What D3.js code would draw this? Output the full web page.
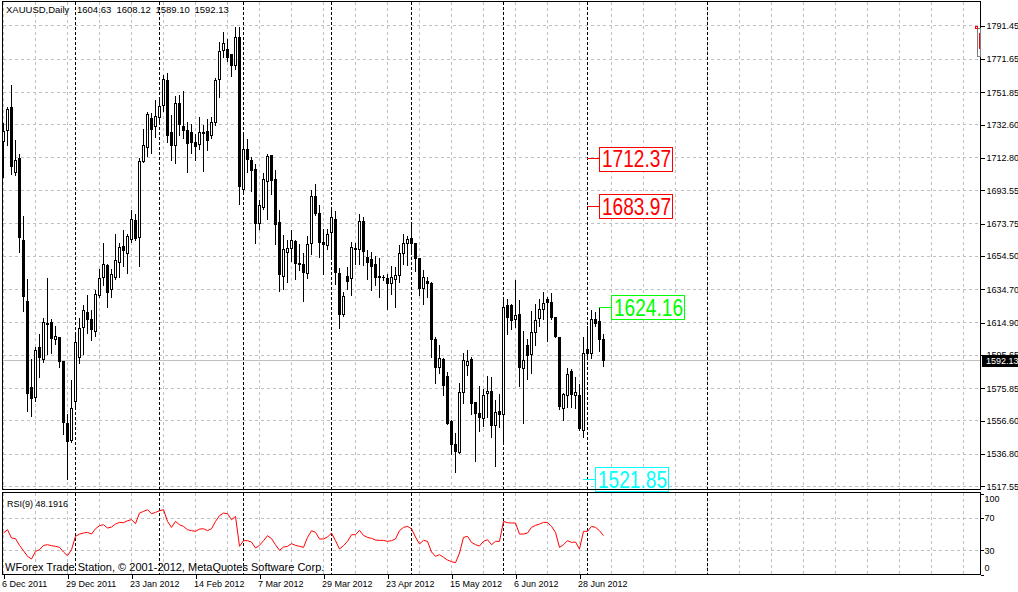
<!DOCTYPE html>
<html>
<head>
<meta charset="utf-8">
<script src="https://cdn.jsdelivr.net/npm/d3@7"></script>
<style>
  body { margin: 0; background: #fff; }
  svg { display: block; font-family: "Liberation Sans", Arial, sans-serif; }
  .grid line { stroke: #c0c0c0; stroke-dasharray: 3,3; shape-rendering: crispEdges; }
  .sep line { stroke: #000; stroke-dasharray: 3,2; shape-rendering: crispEdges; }
  .frame { fill: none; stroke: #000; shape-rendering: crispEdges; }
  .axis text { font-size: 9px; fill: #000; }
  .axis line { stroke: #000; shape-rendering: crispEdges; }
  .candle line, .candle rect { stroke: #000; shape-rendering: crispEdges; }
  .level text { font-family: "Liberation Sans Narrow", "Arial Narrow", "Liberation Sans", Arial, sans-serif; font-size: 23px; }
</style>
</head>
<body>
<div id="chart"></div>
<script>
// daily XAUUSD bars, 6 Dec 2011 .. 6 Jul 2012
const opens = [1722.32,1729.29,1742.80,1704.46,1712.44,1663.79,1627.47,1576.45,1570.14,1599.91,1592.76,1614.20,1614.79,1604.67,1606.04,1591.75,1554.66,1545.13,1568.11,1594.31,1611.82,1620.75,1616.76,1609.79,1631.05,1641.59,1648.91,1634.44,1641.59,1650.87,
  1660.22,1655.88,1664.21,1675.70,1665.76,1710.83,1718.99,1736.25,1731.67,1736.85,1744.17,1758.64,1727.68,1720.36,1745.18,1731.67,1728.87,1727.92,1721.96,1720.95,
  1727.92,1728.69,1726.31,1733.63,1759.47,1776.50,1777.34,1774.36,1767.57,1784.48,1694.16,1717.80,1711.43,1706.07,1674.09,1683.62,1699.10,1714.40,1699.93,1674.33,
  1642.54,1656.83,1658.85,1663.20,1649.90,1649.33,1643.97,1661.83,1689.99,1680.05,1662.78,1660.82,1668.74,1676.12,1643.97,1619.73,1642.36,1640.99,1658.85,1658.26,
  1675.11,1653.49,1652.30,1649.33,1642.36,1642.00,1641.35,1638.01,1640.39,1642.95,1656.23,1662.19,1664.81,1661.83,1652.90,1635.04,1639.38,1638.01,1604.67,1588.36,
  1592.76,1582.82,1556.03,1542.75,1537.75,1573.11,1589.37,1592.76,1567.16,1560.97,1557.63,1572.88,1573.89,1553.64,1561.98,1560.00,1625.09,1625.09,1616.58,1619.73,
  1587.76,1601.28,1595.74,1609.20,1617.17,1622.53,1628.67,1627.06,1617.77,1605.86,1563.59,1571.51,1585.80,1571.51,1571.51,1550.67,1598.72,1596.33,1616.58,1615.57,
  1604.63];
const highs = [1733.46,1743.16,1756.08,1723.75,1715.00,1678.08,1640.99,1593.36,1600.27,1608.24,1617.77,1641.59,1617.17,1612.77,1606.20,1591.90,1560.61,1580.85,1608.84,1617.77,1625.69,1631.05,1622.53,1634.44,1646.94,1662.01,1649.92,1646.94,1667.37,1662.19,
  1670.17,1667.37,1681.66,1679.69,1713.03,1730.30,1740.18,1739.59,1747.57,1747.15,1762.03,1763.40,1738.22,1749.53,1750.13,1752.69,1734.23,1733.28,1727.32,1737.21,
  1732.26,1735.84,1737.21,1760.07,1781.86,1787.46,1783.47,1774.40,1790.79,1790.79,1726.31,1724.35,1713.39,1709.04,1688.03,1703.86,1715.00,1714.60,1705.89,1682.07,
  1666.77,1664.21,1669.75,1664.21,1661.83,1656.23,1666.18,1693.56,1697.14,1684.63,1670.76,1670.76,1683.62,1681.24,1647.54,1633.01,1647.90,1662.78,1662.19,1679.69,
  1677.67,1657.84,1656.83,1654.27,1653.49,1643.00,1643.55,1648.31,1647.90,1660.82,1667.37,1666.18,1673.32,1662.19,1653.49,1646.35,1641.94,1639.00,1606.22,1601.87,
  1593.95,1585.38,1557.00,1549.06,1578.83,1596.69,1598.72,1594.30,1567.50,1577.46,1575.50,1583.41,1582.40,1568.95,1572.52,1629.86,1629.08,1626.10,1640.39,1628.49,
  1609.79,1605.27,1622.12,1626.10,1629.08,1633.01,1630.03,1632.42,1618.10,1606.22,1572.88,1588.00,1587.40,1582.40,1578.47,1606.64,1613.18,1622.50,1621.10,1624.16,
  1608.12];
const lows = [1701.30,1720.36,1703.51,1702.91,1656.83,1621.70,1562.58,1559.60,1568.53,1582.40,1591.33,1596.33,1596.69,1602.29,1588.77,1548.70,1521.85,1543.70,1564.54,1590.74,1596.33,1608.60,1604.67,1607.23,1630.03,1637.00,1624.50,1630.45,1641.00,1641.94,
  1648.31,1644.32,1662.78,1663.79,1648.49,1710.40,1713.99,1715.77,1725.30,1732.86,1740.78,1722.32,1711.43,1710.06,1726.31,1724.94,1704.46,1715.77,1711.43,1718.39,
  1705.06,1717.38,1724.94,1732.26,1749.11,1772.57,1770.37,1761.44,1765.61,1685.23,1692.55,1704.46,1693.15,1662.19,1670.34,1682.25,1676.30,1691.18,1661.41,1633.61,
  1635.04,1638.97,1651.47,1640.57,1645.93,1627.65,1641.59,1655.46,1678.68,1653.85,1643.97,1658.85,1653.85,1638.01,1611.82,1619.14,1635.04,1631.05,1649.50,1649.92,
  1648.91,1640.99,1634.02,1637.00,1630.45,1640.50,1623.13,1632.06,1624.50,1639.00,1649.92,1648.91,1655.88,1645.52,1631.05,1626.10,1630.45,1594.73,1578.83,1584.79,
  1572.10,1554.60,1536.79,1525.84,1537.20,1566.92,1584.01,1560.61,1532.39,1550.67,1553.64,1558.59,1546.68,1529.83,1552.63,1544.71,1608.24,1611.22,1612.17,1577.46,
  1555.01,1581.45,1584.79,1601.87,1613.18,1617.17,1603.84,1617.17,1606.20,1563.59,1557.04,1564.96,1564.54,1564.18,1551.10,1547.09,1595.32,1593.95,1613.18,1598.30,
  1589.10];
const closes = [1728.28,1741.61,1707.85,1711.43,1665.76,1630.45,1572.88,1569.54,1598.30,1593.95,1614.79,1614.00,1605.27,1606.64,1591.93,1555.61,1544.30,1563.59,1603.24,1611.22,1622.12,1616.58,1610.62,1631.46,1640.99,1649.50,1633.01,1643.37,1651.89,1659.45,
  1657.84,1666.18,1676.12,1664.81,1710.83,1720.36,1738.81,1729.71,1737.21,1743.16,1759.47,1726.31,1720.36,1745.18,1732.86,1728.87,1721.37,1721.73,1719.76,1727.92,
  1727.60,1722.92,1733.87,1759.06,1775.91,1780.91,1772.34,1767.57,1784.48,1696.12,1717.80,1712.02,1705.47,1674.09,1684.63,1699.93,1713.81,1699.52,1673.32,1643.55,
  1658.26,1658.85,1663.79,1650.28,1649.60,1644.92,1661.41,1689.99,1680.05,1662.78,1661.23,1667.37,1677.31,1644.92,1619.56,1630.45,1639.56,1659.45,1658.26,1675.11,
  1657.24,1650.87,1648.31,1641.59,1641.59,1641.90,1638.01,1641.59,1642.95,1656.23,1661.83,1664.21,1661.83,1652.90,1635.04,1641.59,1638.01,1604.67,1588.36,1593.36,
  1577.46,1555.01,1542.75,1538.34,1573.11,1592.35,1591.93,1566.92,1560.61,1558.23,1571.51,1573.89,1553.64,1561.56,1560.02,1623.72,1618.13,1616.16,1619.14,1588.36,
  1592.35,1595.32,1608.84,1616.16,1622.53,1626.10,1627.06,1617.77,1606.64,1564.96,1571.92,1583.83,1572.10,1573.47,1551.68,1596.33,1596.33,1616.58,1614.55,1604.63,
  1592.13];

// RSI(9) line of the sub window
const rsiValues = [51.4,55.5,45.2,44.4,36.1,29.5,22.5,19.2,28.7,30.7,36.1,36.9,35.7,34.9,33.6,27.9,23.3,30.7,47.3,50.1,51.4,52.2,50.1,56.7,60.5,61.7,
  57.6,58.8,62.5,64.6,64.2,66.7,67.9,63.0,76.1,78.2,80.3,75.3,77.0,79.0,80.3,65.8,58.4,65.8,61.7,59.6,55.5,54.3,53.5,56.3,56.7,
  54.3,56.7,65.8,72.9,76.1,75.3,67.9,72.0,34.9,41.9,41.9,40.2,32.8,36.1,41.9,48.1,44.4,36.9,29.9,34.0,34.9,38.2,36.1,34.9,33.6,
  46.0,54.3,52.2,44.0,44.0,46.4,51.4,41.9,31.6,35.7,41.1,49.3,49.3,54.7,48.5,46.0,44.8,42.7,42.3,42.3,41.1,41.9,44.0,54.3,58.4,
  59.6,56.7,46.4,37.8,42.3,41.1,27.9,22.5,24.6,21.3,17.9,15.9,14.6,26.6,46.0,47.3,39.8,36.9,35.3,41.1,43.1,36.9,41.1,41.1,65.8,
  64.2,63.8,63.8,50.1,50.1,51.4,58.4,60.9,62.5,64.6,64.6,59.6,52.2,33.6,36.9,41.9,39.8,40.2,31.6,53.5,53.5,59.6,58.4,54.3,48.1916];

const priceTicks = [1791.45,1771.65,1751.85,1732.60,1712.80,1693.55,1673.75,1654.50,1634.70,1614.90,1595.65,1575.85,1556.60,1536.80,1517.55];
const rsiTicks = [100, 70, 30, 0];
const rsiGrid = [70, 30];
const dateTickBars = [0, 16, 32, 48, 64, 80, 96, 112, 128, 144];
const dateTickLabels = ["6 Dec 2011","29 Dec 2011","23 Jan 2012","14 Feb 2012","7 Mar 2012","29 Mar 2012","23 Apr 2012","15 May 2012","6 Jun 2012","28 Jun 2012"];
const separatorBars = [18, 39, 60, 82, 102, 125, 146, 176];

// price level labels (text objects on the chart)
const levelPrices = [1712.37, 1683.97, 1624.16, 1521.85];
const levelBars = [146, 146, 149, 145];
const levelColors = ["#ff0000", "#ff0000", "#00ff00", "#00ffff"];

const last = closes.length - 1;
const lastPrice = closes[last];
const header = ["XAUUSD,Daily", opens[last], highs[last], lows[last], closes[last]];

const width = 1018, height = 592;
const plot = {left: 2.5, right: 980.5, top: 1.5, bottom: 489.5};
const sub = {top: 492.5, bottom: 574.5};

const svg = d3.select("#chart")
  .append("svg")
  .attr("width", width)
  .attr("height", height);

const x = d3.scaleLinear().domain([0, 150]).range([3.5, 603.5]);
const y = d3.scaleLinear().domain([1517.55, 1791.45]).range([486.4, 25.7]);
const yR = d3.scaleLinear().domain([0, 100]).range([574.5, 493.8]);
const px = v => Math.floor(v) + 0.5;

// ---------- grid ----------
const gridBars = d3.range(0, 241, 8);

const grid = svg.append("g").attr("class", "grid");
grid.selectAll(".h").data(priceTicks).join("line")
  .attr("x1", plot.left).attr("x2", plot.right)
  .attr("y1", d => px(y(d))).attr("y2", d => px(y(d)));
grid.selectAll(".v").data(gridBars).join("line")
  .attr("x1", d => x(d)).attr("x2", d => x(d))
  .attr("y1", plot.top).attr("y2", plot.bottom);

const gridR = svg.append("g").attr("class", "grid");
gridR.selectAll(".h").data(rsiGrid).join("line")
  .attr("x1", plot.left).attr("x2", plot.right)
  .attr("y1", d => px(yR(d))).attr("y2", d => px(yR(d)));
gridR.selectAll(".v").data(gridBars).join("line")
  .attr("x1", d => x(d)).attr("x2", d => x(d))
  .attr("y1", sub.top).attr("y2", sub.bottom);

// month separators
const sep = svg.append("g").attr("class", "sep");
sep.selectAll(".m").data(separatorBars).join("line")
  .attr("x1", d => x(d)).attr("x2", d => x(d))
  .attr("y1", plot.top).attr("y2", plot.bottom);
sep.selectAll(".r").data(separatorBars).join("line")
  .attr("x1", d => x(d)).attr("x2", d => x(d))
  .attr("y1", sub.top).attr("y2", sub.bottom);

// bid line
svg.append("line")
  .attr("x1", plot.left).attr("x2", plot.right)
  .attr("y1", px(y(lastPrice))).attr("y2", px(y(lastPrice)))
  .attr("stroke", "#c0c0c0")
  .attr("shape-rendering", "crispEdges");

// ---------- candles ----------
const bars = d3.range(opens.length);
const candle = svg.append("g").attr("class", "candle")
  .selectAll("g").data(bars).join("g");

candle.append("line")
  .attr("x1", i => x(i)).attr("x2", i => x(i))
  .attr("y1", i => Math.round(y(highs[i]))).attr("y2", i => Math.round(y(lows[i])) + 1);

candle.each(function(i) {
  const g = d3.select(this);
  const top = px(y(Math.max(opens[i], closes[i])));
  const bot = px(y(Math.min(opens[i], closes[i])));
  if (bot - top < 1) {
    g.append("line")
      .attr("x1", x(i) - 1.5).attr("x2", x(i) + 1.5)
      .attr("y1", top).attr("y2", top);
  } else {
    g.append("rect")
      .attr("x", x(i) - 1)
      .attr("y", top)
      .attr("width", 2)
      .attr("height", bot - top)
      .attr("fill", closes[i] >= opens[i] ? "#fff" : "#000");
  }
});

// ---------- RSI ----------
const rsiLine = d3.line()
  .x((d, i) => x(i))
  .y(d => yR(d));

svg.append("path")
  .datum(rsiValues)
  .attr("d", rsiLine)
  .attr("fill", "none")
  .attr("stroke", "#ff0000")
  .attr("stroke-width", 1);

// ---------- level labels ----------
const level = svg.selectAll(".level")
  .data(levelPrices)
  .join("g")
  .attr("class", "level");

level.append("line")
  .attr("x1", (d, i) => x(levelBars[i]) - 0.5)
  .attr("x2", (d, i) => x(levelBars[i]) + 11)
  .attr("y1", d => px(y(d))).attr("y2", d => px(y(d)))
  .attr("stroke", (d, i) => levelColors[i])
  .attr("shape-rendering", "crispEdges");

level.append("rect")
  .attr("x", (d, i) => Math.round(x(levelBars[i]) + 11) + 0.5)
  .attr("y", d => Math.round(y(d) - 12) + 0.5)
  .attr("width", 73)
  .attr("height", 24)
  .attr("fill", "#fff")
  .attr("stroke", (d, i) => levelColors[i])
  .attr("shape-rendering", "crispEdges");

level.append("text")
  .attr("x", (d, i) => Math.round(x(levelBars[i]) + 14))
  .attr("y", d => y(d) + 8.5)
  .attr("textLength", 69)
  .attr("lengthAdjust", "spacingAndGlyphs")
  .attr("fill", (d, i) => levelColors[i])
  .text(d => d.toFixed(2));

// ---------- frames ----------
svg.append("rect").attr("class", "frame")
  .attr("x", plot.left).attr("y", plot.top)
  .attr("width", plot.right - plot.left).attr("height", plot.bottom - plot.top);
svg.append("rect").attr("class", "frame")
  .attr("x", plot.left).attr("y", sub.top)
  .attr("width", plot.right - plot.left).attr("height", sub.bottom - sub.top);

// ---------- axes ----------
svg.append("g")
  .attr("class", "axis")
  .attr("transform", `translate(${plot.right},0)`)
  .call(d3.axisRight(y).tickValues(priceTicks).tickSize(4).tickPadding(2).tickFormat(d3.format(".2f")))
  .call(g => g.select(".domain").remove());

svg.append("g")
  .attr("class", "axis")
  .attr("transform", `translate(${plot.right},0)`)
  .call(d3.axisRight(yR).tickValues(rsiTicks).tickSize(3).tickPadding(1))
  .call(g => g.select(".domain").remove())
  .call(g => g.selectAll(".tick text")
    .attr("y", d => Math.max(499, Math.min(567.5, yR(d))) - yR(d)));

svg.append("g")
  .attr("class", "axis")
  .attr("transform", `translate(0,${sub.bottom})`)
  .call(d3.axisBottom(x).tickValues(dateTickBars).tickSize(4).tickPadding(2)
    .tickFormat((d, i) => dateTickLabels[i]))
  .call(g => g.select(".domain").remove())
  .call(g => g.selectAll(".tick text").attr("text-anchor", "start").attr("x", -2));

// current price box on the price scale (covers most of the 1595.65 label, as in MT4)
svg.append("rect")
  .attr("x", 982).attr("y", Math.round(y(lastPrice)) - 6)
  .attr("width", 36).attr("height", 12)
  .attr("fill", "#000");
svg.append("text")
  .attr("x", 986).attr("y", y(lastPrice) + 3.5)
  .attr("font-size", 9).attr("fill", "#fff")
  .text(lastPrice.toFixed(2));

// chart shift marker, top right
svg.append("rect")
  .attr("x", 977.5).attr("y", 28.5).attr("width", 3).attr("height", 28)
  .attr("fill", "none").attr("stroke", "#808080").attr("shape-rendering", "crispEdges");
svg.append("rect")
  .attr("x", 975.5).attr("y", 26.5).attr("width", 2).attr("height", 2)
  .attr("fill", "none").attr("stroke", "#ff0000").attr("shape-rendering", "crispEdges");
svg.append("line")
  .attr("x1", 979.5).attr("x2", 979.5).attr("y1", 33).attr("y2", 49)
  .attr("stroke", "#ff0000");

// ---------- texts ----------
const headerX = [6, 77, 116.5, 155.5, 194.5];
svg.append("g").selectAll("text").data(header).join("text")
  .attr("x", (d, i) => headerX[i])
  .attr("y", 13)
  .attr("font-size", 9.5)
  .text(d => typeof d === "number" ? d.toFixed(2) : d);

svg.append("text")
  .attr("x", 7).attr("y", 506.5)
  .attr("font-size", 9)
  .text("RSI(9) " + rsiValues[last].toFixed(4));

svg.append("text")
  .attr("x", 5).attr("y", 571)
  .attr("font-size", 11)
  .text("WForex Trade Station, \u00a9 2001-2012, MetaQuotes Software Corp.");
</script>
</body>
</html>
